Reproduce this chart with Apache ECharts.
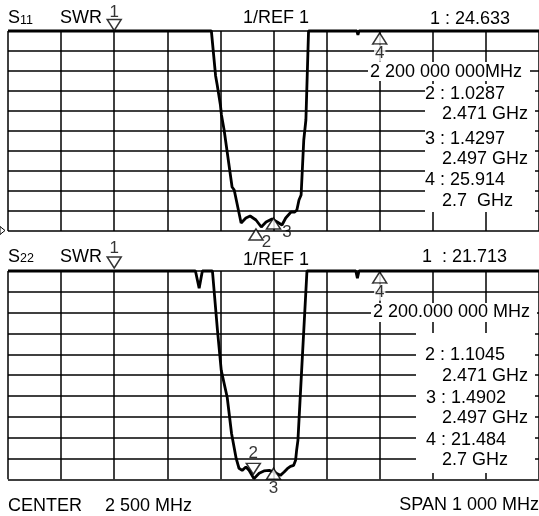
<!DOCTYPE html>
<html><head><meta charset="utf-8">
<script src="https://cdn.jsdelivr.net/npm/echarts@6/dist/echarts.min.js"></script>
<style>html,body{margin:0;padding:0;background:#fff}#c{width:539px;height:516px}</style>
</head><body><div id="c"></div>
<script>
// ---- data (frequency MHz, SWR) ----
const freqTicks = [2000, 3000, 100];   // min, max, interval (MHz)
const swrTicks = [1, 11, 1];           // min, max, interval
const s11Trace = [[2000,11],[2383,11],[2391,8.75],[2394,8.7],[2394,8.3],[2400,7.3],[2402,7.3],[2402,6.8],[2407,6.05],[2422,3.2],[2426,3.05],[2439,1.4],[2448,1.65],[2456,1.75],[2467,1.55],[2477,1.2],[2486,1.45],[2497,1.6],[2507,1.45],[2516,1.3],[2523,1.65],[2533,1.95],[2540,1.95],[2544,2.05],[2548,2.55],[2552,2.8],[2557,5.55],[2559,6.05],[2561,6.55],[2566,11],[2657,11],[2659,10.8],[2661,11],[3000,11]];
const s22Trace = [[2000,11],[2353,11],[2360,10.17],[2366,11],[2385,11],[2394.5,8.15],[2401.6,6.23],[2412.8,4.94],[2421,3.2],[2429.7,2.0],[2432,1.91],[2435,1.53],[2441,1.43],[2448,1.59],[2454,1.43],[2463,1.03],[2473,1.29],[2482,1.40],[2492,1.43],[2501,1.35],[2507,1.27],[2513,1.19],[2520,1.35],[2526,1.51],[2532,1.62],[2538,1.67],[2541.6,1.91],[2543.5,2.39],[2546,2.87],[2550,4.79],[2553,6.23],[2563,11],[2655,11],[2658,10.65],[2661,11],[3000,11]];
const markerNames = ['1','2','3','4'];
const s11Markers = [[2200,11],[2467,1.1],[2500,1.65],[2700,11]];
const s22Markers = [[2200,11],[2462,1.24],[2500,1.53],[2700,11]];
const s11Readout = ['1 : 24.633','2 200 000 000MHz','2 : 1.0287','2.471 GHz','3 : 1.4297','2.497 GHz','4 : 25.914','2.7  GHz'];
const s22Readout = ['1  : 21.713','2 200.000 000 MHz','2 : 1.1045','2.471 GHz','3 : 1.4902','2.497 GHz','4 : 21.484','2.7 GHz'];
const headerText = ['S','11','S','22','SWR','1/REF 1'];
const footerText = ['CENTER','2 500 MHz','SPAN 1 000 MHz'];

// ---- layout / styles ----
const FONT = '"Liberation Sans", Arial, sans-serif';
const chart = echarts.init(document.getElementById('c'), null, {renderer:'canvas'});
const grids = [{left:8, top:31, width:533, height:200},{left:8, top:271, width:533, height:208.3}];
function xAx(i){return {type:'value', gridIndex:i, min:freqTicks[0], max:freqTicks[1], interval:freqTicks[2],
  axisLine:{show:false}, axisTick:{show:false}, axisLabel:{show:false},
  splitLine:{show:true, lineStyle:{color:'#000', width:1.5}}};}
function yAx(i){return {type:'value', gridIndex:i, min:swrTicks[0], max:swrTicks[1], interval:swrTicks[2],
  axisLine:{show:false}, axisTick:{show:false}, axisLabel:{show:false},
  splitLine:{show:true, lineStyle:{color:'#000', width:1.5}}};}

// marker display config: down = pointing down; gap = px between apex and value
const s11Cfg = [
  {down:true, gap:0.5, pos:'top', dist:0, off:[0,2]},
  {down:false, gap:0, pos:'right', dist:0, off:[-3,8]},
  {down:false, gap:0, pos:'right', dist:0, off:[0,8.5]},
  {down:false, gap:2, pos:'bottom', dist:0, off:[0,0], bg:true}
];
const s22Cfg = [
  {down:true, gap:3, pos:'top', dist:0, off:[0,0]},
  {down:true, gap:0, pos:'top', dist:1, off:[0,0]},
  {down:false, gap:0, pos:'bottom', dist:0, off:[0,0]},
  {down:false, gap:1, pos:'bottom', dist:0, off:[0,0], bg:true}
];
function markerItems(pts, cfg){
  return pts.map((p,i)=>{const c=cfg[i]; const h=11;
    return {value:p, symbolRotate:c.down?180:0, symbolOffset:[0, c.down?-(h/2+c.gap):(h/2+c.gap)],
      label:{show:true, formatter:markerNames[i], position:c.pos, distance:c.dist, offset:c.off,
        backgroundColor:c.bg?'#fff':'transparent', padding:[0,1]}};});
}
function traceSeries(i, data){return {type:'line', xAxisIndex:i, yAxisIndex:i, data, showSymbol:false, symbol:'none',
  lineStyle:{color:'#000', width:2.8}, clip:false, z:5, animation:false};}
function markerSeries(i, items){return {type:'scatter', xAxisIndex:i, yAxisIndex:i, data:items, clip:false,
  symbol:'triangle', symbolSize:[14,11], itemStyle:{color:'#fff', borderColor:'#000', borderWidth:1.5},
  label:{color:'#000', fontFamily:FONT, fontSize:17}, z:60, zlevel:0, animation:false};}

function txt(t, x, y, size, align){return {type:'text', z:101, style:{text:t, x, y, font:size+'px '+FONT, fill:'#000',
  textAlign:align||'left', textVerticalAlign:'middle', align:align||'left', verticalAlign:'middle'}};}
function rect(x,y,w,h){return {type:'rect', z:100, shape:{x,y,width:w,height:h}, style:{fill:'#fff'}};}

const g = [];
// readout white boxes
g.push(rect(425,84,110,128));
g.push(rect(368,62,162,19));
g.push(rect(416,333,119,140));
g.push(rect(371,303,166,19));
// top readout
const topY = [19,72,94.5,114,139,159,180,201];
const topX = [430,370,425,442,425,442,425,442];
s11Readout.forEach((t,i)=>g.push(txt(t, topX[i], topY[i], 18)));
const botY = [256.7,312.5,355,376.5,398,418.5,440,460.5];
const botX = [422,373,425,442,426,442,426,442];
s22Readout.forEach((t,i)=>g.push(txt(t, botX[i], botY[i], 18)));
// headers
g.push(txt(headerText[0], 8, 18, 18)); g.push(txt(headerText[1], 20, 20.5, 12.5));
g.push(txt(headerText[2], 8, 257.5, 18)); g.push(txt(headerText[3], 20, 259, 12.5));
g.push(txt(headerText[4], 60, 18, 18)); g.push(txt(headerText[4], 60, 257.5, 18));
g.push(txt(headerText[5], 243, 18, 18)); g.push(txt(headerText[5], 243, 260, 18));
// footer
g.push(txt(footerText[0], 8, 506, 18)); g.push(txt(footerText[1], 105, 506, 18));
g.push(txt(footerText[2], 539, 505, 18, 'right'));
// reference position marker on left edge
g.push({type:'polygon', z:101, shape:{points:[[0,226.5],[5,230.5],[0,234.5]]}, style:{fill:'#fff', stroke:'#000', lineWidth:1}});

chart.setOption({
  animation:false,
  backgroundColor:'#fff',
  grid: grids,
  xAxis:[xAx(0), xAx(1)],
  yAxis:[yAx(0), yAx(1)],
  series:[traceSeries(0, s11Trace), traceSeries(1, s22Trace),
    markerSeries(0, markerItems(s11Markers, s11Cfg)), markerSeries(1, markerItems(s22Markers, s22Cfg))],
  graphic:{elements:g}
});
</script></body></html>
